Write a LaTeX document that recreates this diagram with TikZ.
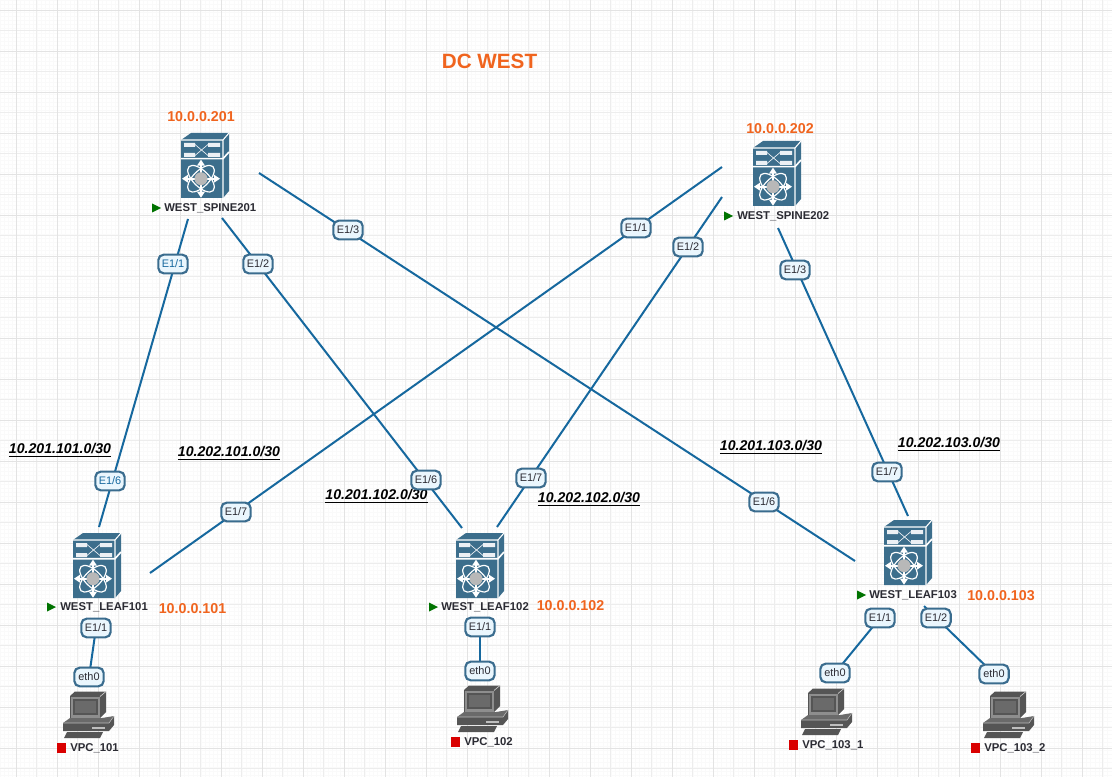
\documentclass[tikz,border=0pt]{standalone}
\usepackage{fontspec}
\setmainfont{Liberation Sans}
\definecolor{linkc}{HTML}{16689E}
\definecolor{boxb}{HTML}{3A6C8E}
\definecolor{boxf}{HTML}{EAF6FD}
\definecolor{sw}{HTML}{3C6E8C}
\definecolor{org}{HTML}{F0641E}
\definecolor{txt}{HTML}{2B2B33}
\definecolor{pcm}{HTML}{6A6A6A}
\definecolor{pcd}{HTML}{555555}
\definecolor{pcl}{HTML}{8E8E8E}
\definecolor{gridM}{HTML}{E3E3E3}
\definecolor{gridm}{HTML}{EDEDED}
\definecolor{gridf}{HTML}{FAFAFA}
\tikzset{
  link/.style={draw=linkc,line width=1.5pt},
  port/.style={draw=boxb,fill=boxf,line width=1.6pt,rounded corners=4pt,minimum height=14pt,minimum width=22pt,inner sep=1pt,font=\fontsize{8.2pt}{9pt}\selectfont,text=txt},
  portb/.style={port,text=linkc},
  devlabel/.style={font=\bfseries\fontsize{8.5pt}{10pt}\selectfont,text=txt,inner sep=0pt,anchor=west},
  addr/.style={font=\bfseries\fontsize{10.7pt}{12pt}\selectfont,text=org,inner sep=0pt},
  subnet/.style={font=\bfseries\itshape\fontsize{10.6pt}{12pt}\selectfont,text=black,inner sep=0pt},
  pics/switch/.style={code={
    \fill[sw] (1,8)--(11,1)--(49,1)--(49,59)--(43,66)--(1,66)--cycle;
    \draw[white,line width=0.8pt] (1,8)--(43,8)--(49,1) (43,8)--(43,66);
    \draw[white,line width=1.2pt] (1,26.7)--(43,26.7)--(49,20);
    \fill[white!90!sw] (4,11)--(15,11)--(15,15)--(4,15)--cycle (4,21)--(15,21)--(15,25)--(4,25)--cycle;
    \fill[white!90!sw] (28,11)--(40,11)--(40,15)--(28,15)--cycle (28,21)--(40,21)--(40,25)--(28,25)--cycle;
    \draw[white!90!sw,line width=0.5pt] (15,12.5)--(28,23.5) (15,23.5)--(28,12.5);
    \begin{scope}[shift={(21,46.7)}]
      \draw[white,line width=0.9pt,rotate=45] (0,0) ellipse [x radius=17,y radius=8];
      \draw[white,line width=0.9pt,rotate=-45] (0,0) ellipse [x radius=17,y radius=8];
      \draw[white,line width=1.3pt] (-15,0)--(15,0) (0,-16)--(0,16);
      \fill[white] (-19,0)--(-13,-4)--(-13,4)--cycle (19,0)--(13,-4)--(13,4)--cycle
        (0,-19)--(-4,-13)--(4,-13)--cycle (0,19)--(-4,13)--(4,13)--cycle;
      \fill[fill=black!28] (0,0) circle [radius=6.5];
    \end{scope}
  }},
  pics/pc/.style={code={
    \fill[pcd] (8,5)--(13,0.5)--(44,0.5)--(44,21)--(38,27)--(8,27)--cycle;
    \fill[pcl] (8.5,5.5)--(38,5.5)--(38,26.5)--(8.5,26.5)--cycle;
    \draw[white!70!pcd,line width=0.5pt] (38,5.5)--(44,0.5);
    \fill[pcd] (11,8)--(36,8)--(36,24)--(11,24)--cycle;
    \fill[pcm] (13,10)--(34,10)--(34,22)--(13,22)--cycle;
    \fill[pcm] (1,32)--(8,27)--(40,27)--(52,25)--(47,32)--cycle;
    \fill[pcd] (1,32)--(47,32)--(52,25)--(52,34)--(47,40)--(1,40)--cycle;
    \draw[white!60!pcd,line width=0.4pt] (1,32)--(47,32)--(52,25);
    \fill[white!75!black] (30,35.5)--(43,35.5)--(43,37.5)--(30,37.5)--cycle;
    \fill[pcd] (5,41)--(41,41)--(38,47)--(2,47)--cycle;
  }}
}
\begin{document}
\begin{tikzpicture}[x=0.75pt,y=-0.75pt]
\useasboundingbox (0,0) rectangle (1112,777);
\fill[white] (0,0) rectangle (1112,777);
% grid
\foreach \i in {0,...,270}{\draw[gridf,line width=0.3pt] ({\i*4.1},0)--({\i*4.1},777);}
\foreach \i in {0,...,190}{\draw[gridf,line width=0.3pt] (0,{\i*4.1})--(1112,{\i*4.1});}
\foreach \i in {0,...,54}{\draw[gridm,line width=0.5pt] ({16+\i*20.5},0)--({16+\i*20.5},777);}
\foreach \i in {0,...,38}{\draw[gridm,line width=0.5pt] (0,{10+\i*20.5})--(1112,{10+\i*20.5});}
\foreach \i in {0,...,27}{\draw[gridM,line width=0.6pt] ({16+\i*41},0)--({16+\i*41},777);}
\foreach \i in {0,...,19}{\draw[gridM,line width=0.6pt] (0,{10+\i*41})--(1112,{10+\i*41});}

\node[font=\bfseries\fontsize{15.5pt}{17pt}\selectfont,text=org,inner sep=0pt] (title) at (489.5,61) {DC WEST};

% connector ends
\coordinate (a1) at (188,219); \coordinate (a2) at (99,527);
\coordinate (b1) at (222,218); \coordinate (b2) at (462,528);
\coordinate (c1) at (259,173); \coordinate (c2) at (855,561);
\coordinate (d1) at (722,167); \coordinate (d2) at (150,573);
\coordinate (e1) at (722,197); \coordinate (e2) at (497,527);
\coordinate (f1) at (778,228); \coordinate (f2) at (908,516);
\coordinate (g1) at (96,628); \coordinate (g2) at (89,677);
\coordinate (h1) at (480,627); \coordinate (h2) at (480,671);
\coordinate (i1) at (880,618); \coordinate (i2) at (835,673);
\coordinate (j1) at (924,606); \coordinate (j2) at (994,674);
\draw[link] (a1)--(a2);
\draw[link] (b1)--(b2);
\draw[link] (c1)--(c2);
\draw[link] (d1)--(d2);
\draw[link] (e1)--(e2);
\draw[link] (f1)--(f2);
\draw[link] (g1)--(g2);
\draw[link] (h1)--(h2);
\draw[link] (i1)--(i2);
\draw[link] (j1)--(j2);

% switches
\pic at (180,132) {switch};
\pic at (72,532) {switch};
\pic at (455,532) {switch};
\pic at (883,519) {switch};
\pic at (752,140) {switch};
% PCs
\pic at (62,691) {pc};
\pic at (456,685) {pc};
\pic at (800,688) {pc};
\pic at (982,691) {pc};

% status marks
\foreach \x/\y in {152/208,724/216,47/607,429/607,857/595}{
  \fill[green!45!black] (\x,\y-4.5)--(\x+9,\y)--(\x,\y+4.5)--cycle;
}
\foreach \x/\y in {57/748,451/742,789/745,971/748}{
  \fill[red!85!black] (\x,\y-5)--(\x+9,\y-5)--(\x+9,\y+5)--(\x,\y+5)--cycle;
}

% device labels
\node[devlabel] (spine201) at (164,208) {WEST\_SPINE201};
\node[devlabel] (spine202) at (737,216) {WEST\_SPINE202};
\node[devlabel] (leaf101) at (60,607) {WEST\_LEAF101};
\node[devlabel] (leaf102) at (441,607) {WEST\_LEAF102};
\node[devlabel] (leaf103) at (869,595) {WEST\_LEAF103};
\node[devlabel] (vpc101) at (70,748) {VPC\_101};
\node[devlabel] (vpc102) at (464,742) {VPC\_102};
\node[devlabel] (vpc1031) at (802,745) {VPC\_103\_1};
\node[devlabel] (vpc1032) at (984,748) {VPC\_103\_2};

% addresses
\node[addr] (ip201) at (201,116.5) {10.0.0.201};
\node[addr] (ip202) at (780,128.5) {10.0.0.202};
\node[addr] (ip101) at (192.5,608.5) {10.0.0.101};
\node[addr] (ip102) at (570.5,605.5) {10.0.0.102};
\node[addr] (ip103) at (1001,595.5) {10.0.0.103};

% subnets
\node[subnet] (n1) at (60,450) {\underline{10.201.101.0/30}};
\node[subnet] (n2) at (229,453) {\underline{10.202.101.0/30}};
\node[subnet] (n3) at (376.5,496) {\underline{10.201.102.0/30}};
\node[subnet] (n4) at (589,499) {\underline{10.202.102.0/30}};
\node[subnet] (n5) at (771,447) {\underline{10.201.103.0/30}};
\node[subnet] (n6) at (949,444) {\underline{10.202.103.0/30}};

% port labels
\node[portb] (p1) at (173,264) {E1/1};
\node[portb] (p2) at (110,481) {E1/6};
\node[port] (p3) at (258,264) {E1/2};
\node[port] (p4) at (426,480) {E1/6};
\node[port] (p5) at (348,230) {E1/3};
\node[port] (p6) at (764,502) {E1/6};
\node[port] (p7) at (636,228) {E1/1};
\node[port] (p8) at (236,512) {E1/7};
\node[port] (p9) at (688,247) {E1/2};
\node[port] (p10) at (531,478) {E1/7};
\node[port] (p11) at (795,270) {E1/3};
\node[port] (p12) at (887,472) {E1/7};
\node[port] (p13) at (96,628) {E1/1};
\node[port] (p14) at (89,677) {eth0};
\node[port] (p15) at (480,627) {E1/1};
\node[port] (p16) at (480,671) {eth0};
\node[port] (p17) at (880,618) {E1/1};
\node[port] (p18) at (835,673) {eth0};
\node[port] (p19) at (936,618) {E1/2};
\node[port] (p20) at (994,674) {eth0};
\end{tikzpicture}
\end{document}
